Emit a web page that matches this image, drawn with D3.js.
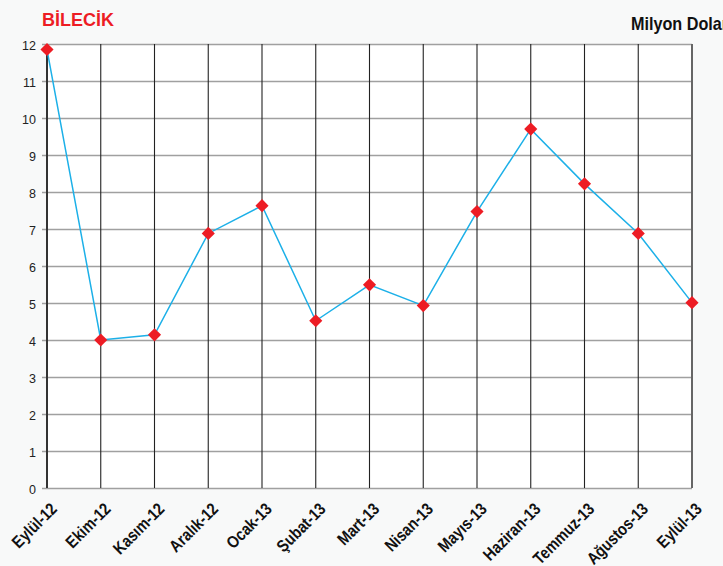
<!DOCTYPE html>
<html>
<head>
<meta charset="utf-8">
<script src="https://cdn.jsdelivr.net/npm/d3@7"></script>
<style>
  body { margin: 0; background: #f8f9f9; }
  svg { display: block; }
  .ylab text { font-family: "Liberation Sans", Arial, sans-serif; font-size: 12.5px; fill: #222; }
  .xlab { font-family: "Liberation Sans", Arial, sans-serif; font-size: 17px; font-weight: bold; fill: #111; }
</style>
</head>
<body>
<div id="chart"></div>
<script>
// veriler
const months = ["Eylül-12", "Ekim-12", "Kasım-12", "Aralık-12", "Ocak-13", "Şubat-13", "Mart-13",
                "Nisan-13", "Mayıs-13", "Haziran-13", "Temmuz-13", "Ağustos-13", "Eylül-13"]
const values = [11.85, 4.0, 4.14, 6.88, 7.63, 4.52, 5.49, 4.93, 7.47, 9.7, 8.22, 6.88, 5.01]
const yTicks = [0, 1, 2, 3, 4, 5, 6, 7, 8, 9, 10, 11, 12]
const title = "BİLECİK"
const unitLabel = "Milyon Dolar"

const width = 723
const height = 566
const margin = { top: 44, bottom: 78, left: 47, right: 31 }
const plotW = width - margin.left - margin.right
const plotH = height - margin.top - margin.bottom

const svg = d3.select("div#chart").append("svg").attr("width", width).attr("height", height)

svg.append("rect").attr("width", width).attr("height", height).attr("fill", "#f8f9f9")

const x = d3.scalePoint().domain(months).range([0, plotW])
const y = d3.scaleLinear().domain([0, 12]).range([plotH, 0])

const g = svg.append("g").attr("transform", `translate(${margin.left},${margin.top})`)

// fondo blanco del área
g.append("rect").attr("width", plotW).attr("height", plotH).attr("fill", "#fff")

// lineas horizontales
const yGrid = g.append("g").attr("transform", "translate(-5,0)")
  .call(d3.axisLeft(y).tickValues(yTicks).tickSize(-(plotW + 5)).tickFormat(""))
yGrid.select(".domain").remove()
yGrid.selectAll("line").attr("stroke", "#a0a0a0").attr("stroke-width", 1.6)

// lineas verticales
const xGrid = g.append("g").attr("transform", `translate(0,${plotH})`)
  .call(d3.axisBottom(x).tickSize(-plotH).tickFormat("").offset(0))
xGrid.select(".domain").remove()
xGrid.selectAll("line").attr("stroke", "#222").attr("stroke-width", 1.1)

// bordes izquierdo y derecho
g.append("line").attr("x1", 0).attr("x2", 0).attr("y1", 0).attr("y2", plotH)
  .attr("stroke", "#333").attr("stroke-width", 2)
g.append("line").attr("x1", plotW).attr("x2", plotW).attr("y1", 0).attr("y2", plotH)
  .attr("stroke", "#666").attr("stroke-width", 2)

// etiquetas eje y
const yLab = g.append("g").attr("class", "ylab")
  .call(d3.axisLeft(y).tickValues(yTicks).tickSize(0).tickPadding(11))
yLab.select(".domain").remove()
yLab.selectAll("text").attr("dy", "0.4em")

// etiquetas eje x (condensadas)
g.selectAll("text.xlab").data(months).enter()
  .append("text")
  .attr("class", "xlab")
  .attr("text-anchor", "end")
  .attr("transform", d => `translate(${x(d) + 11},${plotH + 22}) rotate(-45) scale(0.85,1)`)
  .text(d => d)

// linea
const line = d3.line().x((d, i) => x(months[i])).y(d => y(d))
g.append("path").datum(values)
  .attr("d", line)
  .attr("fill", "none")
  .attr("stroke", "#1cb0e8")
  .attr("stroke-width", 1.5)

// marcadores
g.selectAll("path.marker").data(values).enter()
  .append("path")
  .attr("class", "marker")
  .attr("d", d3.symbol().type(d3.symbolDiamond2).size(110))
  .attr("transform", (d, i) => `translate(${x(months[i])},${y(d)})`)
  .attr("fill", "#ed1c24")

// título
svg.append("text")
  .attr("x", 42)
  .attr("y", 26)
  .style("font-family", "'Liberation Sans', Arial, sans-serif")
  .style("font-size", "18px")
  .style("font-weight", "bold")
  .attr("fill", "#ed1c24")
  .text(title)

svg.append("text")
  .attr("transform", "translate(631,30) scale(0.9,1)")
  .style("font-family", "'Liberation Sans', Arial, sans-serif")
  .style("font-size", "18px")
  .style("font-weight", "bold")
  .attr("fill", "#111")
  .text(unitLabel)
</script>
</body>
</html>
